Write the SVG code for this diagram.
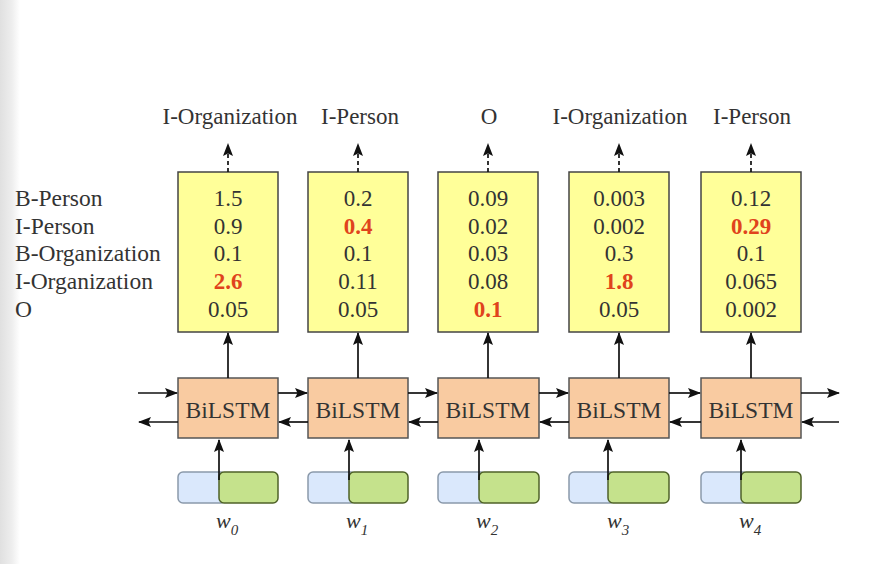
<svg xmlns="http://www.w3.org/2000/svg" width="872" height="564" viewBox="0 0 872 564">
<defs>
<linearGradient id="edge" x1="0" y1="0" x2="1" y2="0">
<stop offset="0" stop-color="#e0e0e0"/>
<stop offset="0.6" stop-color="#eeeeee"/>
<stop offset="1" stop-color="#ffffff"/>
</linearGradient>
<marker id="ah" markerUnits="userSpaceOnUse" markerWidth="13" markerHeight="10" refX="12" refY="5" orient="auto">
<path d="M0,0 L13,5 L0,10 L2.5,5 z" fill="#111"/>
</marker>
<style>
text{font-family:"Liberation Serif","Times New Roman",serif;fill:#333;}
.t{font-size:23px;}
.lg{font-size:23.5px;}
.c{text-anchor:middle;}
.hi{fill:#e0431c;font-weight:bold;}
.score{fill:#ffff99;stroke:#444;stroke-width:1.5;}
.lstm{fill:#f9cba1;stroke:#555;stroke-width:1.5;}
.blue{fill:#dae8fc;stroke:#8a99aa;stroke-width:1.5;}
.green{fill:#c5e28c;stroke:#4f6228;stroke-width:1.5;}
.ln{stroke:#111;stroke-width:1.7;fill:none;}
.dash{stroke:#111;stroke-width:1.7;fill:none;stroke-dasharray:4,3;}
.w{font-size:22px;font-style:italic;}
.sub{font-size:15px;font-style:italic;}
</style>
</defs>
<rect x="0" y="0" width="872" height="564" fill="#fff"/>
<rect x="0" y="0" width="20" height="564" fill="url(#edge)"/>

<g id="legend" class="lg">
<text x="15" y="206">B-Person</text>
<text x="15" y="234">I-Person</text>
<text x="15" y="261">B-Organization</text>
<text x="15" y="289">I-Organization</text>
<text x="15" y="317">O</text>
</g>

<g id="tags" class="t c">
<text x="230" y="124">I-Organization</text>
<text x="360" y="124">I-Person</text>
<text x="489" y="124">O</text>
<text x="620" y="124">I-Organization</text>
<text x="752" y="124">I-Person</text>
</g>

<g id="scores0" class="t c">
<rect class="score" x="178" y="172" width="100" height="160"/>
<text x="228" y="206">1.5</text><text x="228" y="234">0.9</text><text x="228" y="261">0.1</text><text x="228" y="289" class="hi">2.6</text><text x="228" y="317">0.05</text>
</g>
<g id="scores1" class="t c">
<rect class="score" x="308" y="172" width="100" height="160"/>
<text x="358" y="206">0.2</text><text x="358" y="234" class="hi">0.4</text><text x="358" y="261">0.1</text><text x="358" y="289">0.11</text><text x="358" y="317">0.05</text>
</g>
<g id="scores2" class="t c">
<rect class="score" x="438" y="172" width="100" height="160"/>
<text x="488" y="206">0.09</text><text x="488" y="234">0.02</text><text x="488" y="261">0.03</text><text x="488" y="289">0.08</text><text x="488" y="317" class="hi">0.1</text>
</g>
<g id="scores3" class="t c">
<rect class="score" x="569" y="172" width="100" height="160"/>
<text x="619" y="206">0.003</text><text x="619" y="234">0.002</text><text x="619" y="261">0.3</text><text x="619" y="289" class="hi">1.8</text><text x="619" y="317">0.05</text>
</g>
<g id="scores4" class="t c">
<rect class="score" x="701" y="172" width="100" height="160"/>
<text x="751" y="206">0.12</text><text x="751" y="234" class="hi">0.29</text><text x="751" y="261">0.1</text><text x="751" y="289">0.065</text><text x="751" y="317">0.002</text>
</g>

<g id="lstm0"><rect class="lstm" x="178" y="378" width="100" height="60"/><text class="c" x="228" y="418" font-size="23.5">BiLSTM</text></g>
<g id="lstm1"><rect class="lstm" x="308" y="378" width="100" height="60"/><text class="c" x="358" y="418" font-size="23.5">BiLSTM</text></g>
<g id="lstm2"><rect class="lstm" x="438" y="378" width="101" height="60"/><text class="c" x="488" y="418" font-size="23.5">BiLSTM</text></g>
<g id="lstm3"><rect class="lstm" x="569" y="378" width="100" height="60"/><text class="c" x="619" y="418" font-size="23.5">BiLSTM</text></g>
<g id="lstm4"><rect class="lstm" x="701" y="378" width="100" height="60"/><text class="c" x="751" y="418" font-size="23.5">BiLSTM</text></g>

<g id="emb0"><rect class="blue" x="178" y="472" width="48" height="31" rx="5"/><rect class="green" x="219" y="472" width="59" height="31" rx="5"/></g>
<g id="emb1"><rect class="blue" x="308" y="472" width="48" height="31" rx="5"/><rect class="green" x="349" y="472" width="59" height="31" rx="5"/></g>
<g id="emb2"><rect class="blue" x="438" y="472" width="48" height="31" rx="5"/><rect class="green" x="479" y="472" width="60" height="31" rx="5"/></g>
<g id="emb3"><rect class="blue" x="569" y="472" width="46" height="31" rx="5"/><rect class="green" x="608" y="472" width="61" height="31" rx="5"/></g>
<g id="emb4"><rect class="blue" x="701" y="472" width="47" height="31" rx="5"/><rect class="green" x="741" y="472" width="60" height="31" rx="5"/></g>

<g id="words">
<text x="216" y="528"><tspan class="w">w</tspan><tspan class="sub" dy="7">0</tspan></text>
<text x="346" y="528"><tspan class="w">w</tspan><tspan class="sub" dy="7">1</tspan></text>
<text x="476" y="528"><tspan class="w">w</tspan><tspan class="sub" dy="7">2</tspan></text>
<text x="607" y="528"><tspan class="w">w</tspan><tspan class="sub" dy="7">3</tspan></text>
<text x="739" y="528"><tspan class="w">w</tspan><tspan class="sub" dy="7">4</tspan></text>
</g>

<g id="connectors">
<line class="dash" x1="228" y1="172" x2="228" y2="144" marker-end="url(#ah)"/>
<line class="dash" x1="358" y1="172" x2="358" y2="144" marker-end="url(#ah)"/>
<line class="dash" x1="488" y1="172" x2="488" y2="144" marker-end="url(#ah)"/>
<line class="dash" x1="619" y1="172" x2="619" y2="144" marker-end="url(#ah)"/>
<line class="dash" x1="751" y1="172" x2="751" y2="144" marker-end="url(#ah)"/>

<line class="ln" x1="228" y1="378" x2="228" y2="333" marker-end="url(#ah)"/>
<line class="ln" x1="358" y1="378" x2="358" y2="333" marker-end="url(#ah)"/>
<line class="ln" x1="488" y1="378" x2="488" y2="333" marker-end="url(#ah)"/>
<line class="ln" x1="619" y1="378" x2="619" y2="333" marker-end="url(#ah)"/>
<line class="ln" x1="751" y1="378" x2="751" y2="333" marker-end="url(#ah)"/>

<line class="ln" x1="219" y1="480" x2="219" y2="440" marker-end="url(#ah)"/>
<line class="ln" x1="349" y1="480" x2="349" y2="440" marker-end="url(#ah)"/>
<line class="ln" x1="479" y1="480" x2="479" y2="440" marker-end="url(#ah)"/>
<line class="ln" x1="608" y1="480" x2="608" y2="440" marker-end="url(#ah)"/>
<line class="ln" x1="741" y1="480" x2="741" y2="440" marker-end="url(#ah)"/>

<line class="ln" x1="138" y1="393" x2="177" y2="393" marker-end="url(#ah)"/>
<line class="ln" x1="278" y1="393" x2="307" y2="393" marker-end="url(#ah)"/>
<line class="ln" x1="408" y1="393" x2="437" y2="393" marker-end="url(#ah)"/>
<line class="ln" x1="539" y1="393" x2="568" y2="393" marker-end="url(#ah)"/>
<line class="ln" x1="669" y1="393" x2="700" y2="393" marker-end="url(#ah)"/>
<line class="ln" x1="801" y1="393" x2="839" y2="393" marker-end="url(#ah)"/>

<line class="ln" x1="178" y1="422" x2="139" y2="422" marker-end="url(#ah)"/>
<line class="ln" x1="308" y1="422" x2="279" y2="422" marker-end="url(#ah)"/>
<line class="ln" x1="438" y1="422" x2="409" y2="422" marker-end="url(#ah)"/>
<line class="ln" x1="569" y1="422" x2="540" y2="422" marker-end="url(#ah)"/>
<line class="ln" x1="701" y1="422" x2="670" y2="422" marker-end="url(#ah)"/>
<line class="ln" x1="839" y1="422" x2="802" y2="422" marker-end="url(#ah)"/>
</g>
</svg>
